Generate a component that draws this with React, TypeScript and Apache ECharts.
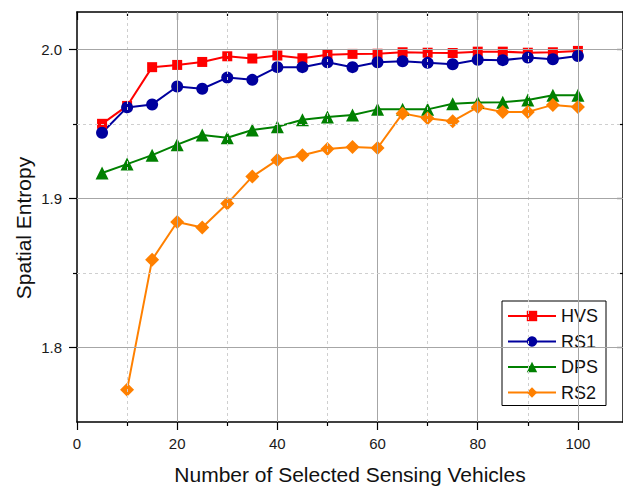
import React, { useEffect, useRef } from 'react';
import * as echarts from 'echarts';

const xValues = [5, 10, 15, 20, 25, 30, 35, 40, 45, 50, 55, 60, 65, 70, 75, 80, 85, 90, 95, 100];
const hvs = [1.950, 1.962, 1.988, 1.9895, 1.9915, 1.9953, 1.9938, 1.9958, 1.994, 1.9964, 1.9969, 1.997, 1.998, 1.9977, 1.9975, 1.9984, 1.9984, 1.9977, 1.998, 1.9989];
const rs1 = [1.944, 1.961, 1.963, 1.975, 1.9735, 1.981, 1.9795, 1.988, 1.988, 1.9913, 1.988, 1.9913, 1.992, 1.9909, 1.990, 1.9929, 1.9927, 1.9944, 1.9933, 1.9955];
const dps = [1.917, 1.923, 1.929, 1.936, 1.9425, 1.9407, 1.9458, 1.948, 1.9527, 1.9545, 1.9559, 1.9597, 1.9597, 1.9597, 1.9634, 1.9643, 1.9645, 1.966, 1.9692, 1.9692];
const rs2 = [null, 1.7717, 1.8589, 1.8841, 1.8805, 1.8965, 1.9146, 1.9258, 1.9289, 1.9331, 1.9344, 1.9338, 1.957, 1.9538, 1.9518, 1.9612, 1.9579, 1.958, 1.9627, 1.9612];

const seriesNames = ['HVS', 'RS1', 'DPS', 'RS2'];
const xMajorTicks = [0, 20, 40, 60, 80, 100];
const xMinorTicks = [10, 30, 50, 70, 90];
const yMajorTicks = [1.8, 1.9, 2.0];
const yMinorTicks = [1.85, 1.95];
const X_MIN = 0;
const X_MAX = 109;
const Y_MIN = 1.75;
const Y_MAX = 2.025;

const FONT = '"Liberation Sans", Arial, Helvetica, sans-serif';

export default function App() {
  const ref = useRef<HTMLDivElement>(null);

  useEffect(() => {
    const chart = echarts.init(ref.current!, null, { renderer: 'svg' });

    const pairs = (ys: (number | null)[]) => xValues.map((x, i) => [x, ys[i]]);

    const xBase = { type: 'value', min: X_MIN, max: X_MAX, splitLine: { show: false } };
    const yBase = { type: 'value', min: Y_MIN, max: Y_MAX, splitLine: { show: false } };
    const axisLine = { show: true, onZero: false, lineStyle: { color: '#000', width: 1.5 } };
    const noLine = { show: false, onZero: false };
    const tickStyle = { color: '#000', width: 1.2 };

    const xAxis = [
      {
        ...xBase, position: 'bottom', axisLine,
        axisTick: { show: true, inside: false, length: 8, customValues: xMajorTicks, lineStyle: tickStyle },
        axisLabel: {
          show: true, customValues: xMajorTicks, margin: 14, fontSize: 15, color: '#1a1a1a', fontFamily: FONT,
          formatter: (v: number) => String(Math.round(v)),
        },
        name: 'Number of Selected Sensing Vehicles', nameLocation: 'middle', nameGap: 42,
        nameTextStyle: { fontSize: 21, color: '#111', fontFamily: FONT },
      },
      {
        ...xBase, position: 'bottom', axisLine: noLine,
        axisTick: { show: true, inside: false, length: 4, customValues: xMinorTicks, lineStyle: tickStyle },
        axisLabel: { show: false },
      },
      {
        ...xBase, position: 'top', axisLine,
        axisTick: { show: true, inside: true, length: 8, customValues: xMajorTicks, lineStyle: tickStyle },
        axisLabel: { show: false },
      },
      {
        ...xBase, position: 'top', axisLine: noLine,
        axisTick: { show: true, inside: true, length: 4, customValues: xMinorTicks, lineStyle: tickStyle },
        axisLabel: { show: false },
      },
    ];

    const yAxis = [
      {
        ...yBase, position: 'left', axisLine,
        axisTick: { show: true, inside: false, length: 8, customValues: yMajorTicks, lineStyle: tickStyle },
        axisLabel: {
          show: true, customValues: yMajorTicks, margin: 15, fontSize: 15, color: '#1a1a1a', fontFamily: FONT,
          formatter: (v: number) => v.toFixed(1),
        },
      },
      {
        ...yBase, position: 'left', axisLine: noLine,
        axisTick: { show: true, inside: false, length: 4, customValues: yMinorTicks, lineStyle: tickStyle },
        axisLabel: { show: false },
      },
      {
        ...yBase, position: 'right', axisLine,
        axisTick: { show: true, inside: true, length: 6, customValues: yMajorTicks, lineStyle: tickStyle },
        axisLabel: { show: false },
      },
      {
        ...yBase, position: 'right', axisLine: noLine,
        axisTick: { show: true, inside: true, length: 3, customValues: yMinorTicks, lineStyle: tickStyle },
        axisLabel: { show: false },
      },
    ];

    const majorGrid = { color: '#a6a6a6', width: 1, type: 'solid' };
    const minorGrid = { color: '#cfcfcf', width: 1, type: [3, 3] };
    const gridLines = [
      ...xMajorTicks.filter((v) => v > X_MIN).map((v) => ({ xAxis: v, lineStyle: majorGrid })),
      ...xMinorTicks.map((v) => ({ xAxis: v, lineStyle: minorGrid })),
      ...yMajorTicks.map((v) => ({ yAxis: v, lineStyle: majorGrid })),
      ...yMinorTicks.map((v) => ({ yAxis: v, lineStyle: minorGrid })),
    ];

    const styles = [
      { color: '#ff0000', symbol: 'rect', size: 10 },
      { color: '#00009e', symbol: 'circle', size: 12 },
      { color: '#008000', symbol: 'triangle', size: 13 },
      { color: '#ff8000', symbol: 'diamond', size: 14 },
    ];
    const dataSets = [hvs, rs1, dps, rs2];

    const option: any = {
      animation: false,
      backgroundColor: '#ffffff',
      textStyle: { fontFamily: FONT },
      grid: { left: 77, right: 0, top: 12, bottom: 64, containLabel: false, outerBoundsMode: 'none' },
      xAxis,
      yAxis,
      legend: {
        data: seriesNames,
        orient: 'vertical',
        left: 502,
        top: 301,
        padding: [5, 8, 3, 5],
        itemWidth: 48,
        itemHeight: 13,
        itemGap: 5.5,
        backgroundColor: '#ffffff',
        borderColor: '#000000',
        borderWidth: 1,
        borderRadius: 0,
        textStyle: { fontSize: 18, color: '#111', fontFamily: FONT, lineHeight: 20 },
        selectedMode: false,
      },
      graphic: [
        {
          type: 'text',
          x: 23,
          y: 228,
          rotation: Math.PI / 2,
          style: {
            text: 'Spatial Entropy',
            fontSize: 21,
            fontFamily: FONT,
            fill: '#111',
            textAlign: 'center',
            textVerticalAlign: 'middle',
          },
        },
      ],
      series: [
        {
          name: 'gridlines',
          type: 'line',
          data: [],
          z: 1,
          silent: true,
          markLine: {
            silent: true,
            symbol: ['none', 'none'],
            label: { show: false },
            emphasis: { disabled: true },
            animation: false,
            data: gridLines,
          },
        },
        ...seriesNames.map((name, i) => ({
          name,
          type: 'line',
          data: pairs(dataSets[i]),
          z: 3,
          symbol: styles[i].symbol,
          symbolSize: styles[i].size,
          showAllSymbol: true,
          connectNulls: false,
          itemStyle: { color: styles[i].color },
          lineStyle: { color: styles[i].color, width: 2 },
          emphasis: { disabled: true },
        })),
      ],
    };

    chart.setOption(option);
    return () => chart.dispose();
  }, []);

  return (
    <div
      ref={ref}
      style={{ position: 'fixed', left: 0, top: 0, width: 623, height: 486, background: '#fff' }}
    />
  );
}
